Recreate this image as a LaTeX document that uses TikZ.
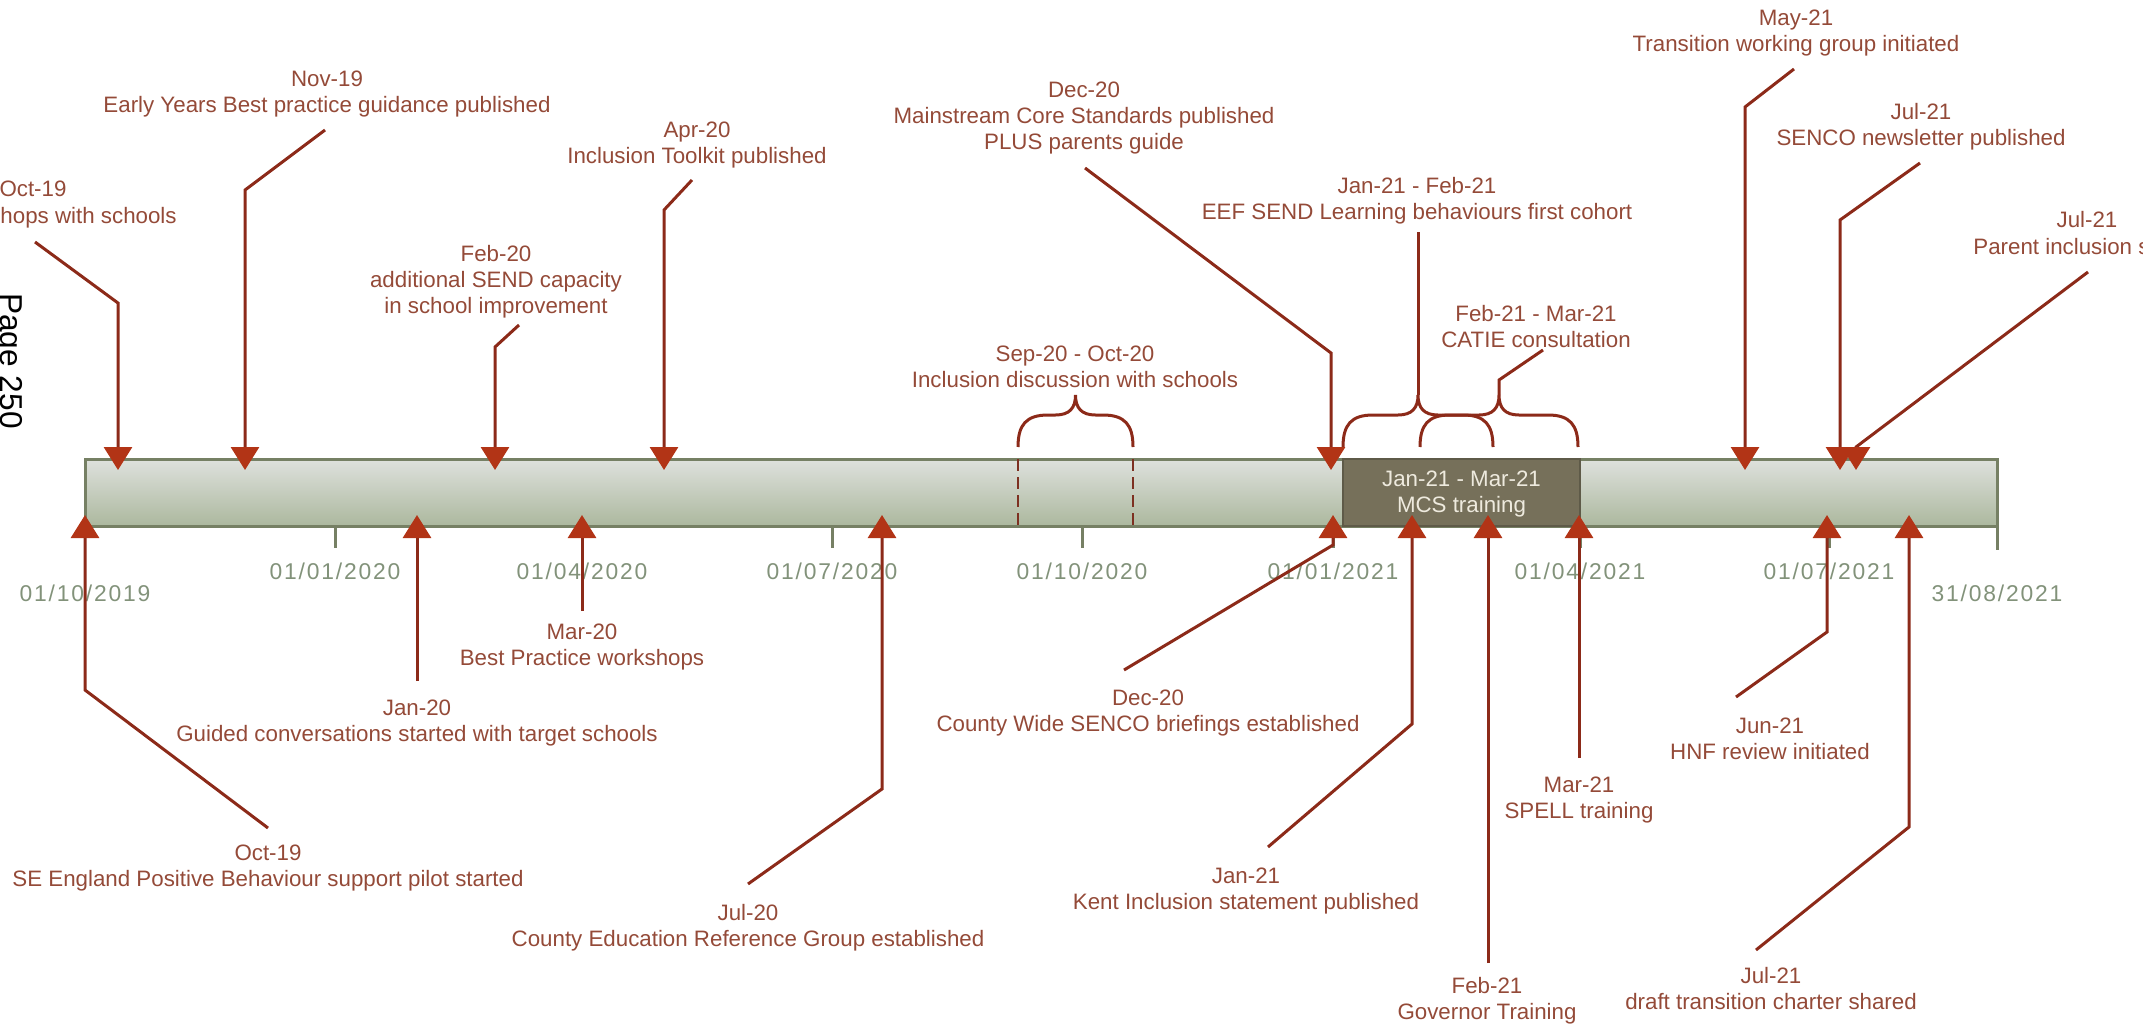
\documentclass[tikz,border=0pt]{standalone}
\usepackage{fontspec}
\setmainfont{Liberation Sans}
\newfontfamily\datefont{Liberation Sans}[LetterSpace=8]
\usetikzlibrary{arrows.meta}
\definecolor{lbltext}{RGB}{148,74,56}
\definecolor{axtext}{RGB}{130,146,122}
\definecolor{evtline}{RGB}{140,42,25}
\definecolor{tipred}{RGB}{178,52,22}
\definecolor{barline}{RGB}{118,128,100}
\definecolor{bartop}{RGB}{222,225,221}
\definecolor{barbot}{RGB}{172,184,158}
\definecolor{mcsfill}{RGB}{118,112,90}
\definecolor{mcstext}{RGB}{238,234,222}
\definecolor{dashred}{RGB}{125,48,33}

\begin{document}
\begin{tikzpicture}[x=0.2mm, y=-0.2mm,
    lbl/.style={font=\fontsize{12.7}{14.8}\selectfont, text=lbltext, align=center, inner sep=0pt},
    datelbl/.style={font=\datefont\fontsize{13}{15}\selectfont, text=axtext, inner sep=0pt},
    evt/.style={draw=evtline, line width=0.6mm, -{Triangle[length=4.6mm,width=5.6mm,color=tipred]}},
    link/.style={draw=evtline, line width=0.6mm},
    tick/.style={draw=barline, line width=0.6mm}]
        \useasboundingbox (0,0) rectangle (2143,1026);
        % Page number
        \node[rotate=-90, anchor=base west, font=\fontsize{18}{20}\selectfont] (page) at (0,287) {Page 250};
        % Timeline bar
        \shade[top color=bartop, bottom color=barbot] (85,459) rectangle (1997,526);
        \draw[barline, line width=0.6mm] (85,459) rectangle (1997,526);
        \draw[tick] (1997,526) -- (1997,550);
        \draw[tick] (335,526) -- (335,548);
        \draw[tick] (582,526) -- (582,548);
        \draw[tick] (832,526) -- (832,548);
        \draw[tick] (1082,526) -- (1082,548);
        \draw[tick] (1333,526) -- (1333,548);
        \draw[tick] (1580,526) -- (1580,548);
        \draw[tick] (1829,526) -- (1829,548);
        % Dates
        \node[datelbl] (d19oct) at (85,593) {01/10/2019};
        \node[datelbl] (d20jan) at (335,571) {01/01/2020};
        \node[datelbl] (d20apr) at (582,571) {01/04/2020};
        \node[datelbl] (d20jul) at (832,571) {01/07/2020};
        \node[datelbl] (d20oct) at (1082,571) {01/10/2020};
        \node[datelbl] (d21jan) at (1333,571) {01/01/2021};
        \node[datelbl] (d21apr) at (1580,571) {01/04/2021};
        \node[datelbl] (d21jul) at (1829,571) {01/07/2021};
        \node[datelbl] (d21aug) at (1997,593) {31/08/2021};
        % MCS training
        \filldraw[fill=mcsfill, draw=mcsfill!80!black, line width=0.4mm] (1343,459) rectangle (1580,526);
        \node[lbl, text=mcstext] (mcs) at (1461.5,494) {Jan-21 - Mar-21\\MCS training};
        % Sep-20 - Oct-20
        \draw[dashred, line width=0.45mm, dash pattern=on 2.4mm off 1.2mm] (1018,459) -- (1018,526);
        \draw[dashred, line width=0.45mm, dash pattern=on 2.4mm off 1.2mm] (1133,459) -- (1133,526);
        \node[lbl] (sepoct) at (1075,367) {Sep-20 - Oct-20\\Inclusion discussion with schools};
        % Braces
        \foreach \l/\r in {1018/1133, 1343/1493, 1420/1578}{
            \pgfmathsetmacro\m{(\l+\r)/2}
            \draw[link] (\l,447) .. controls (\l,425) and ({\l+8},415) .. ({\l+30},415)
                -- ({\m-20},415) .. controls ({\m-6},415) and (\m,408) .. (\m,395)
                .. controls (\m,408) and ({\m+6},415) .. ({\m+20},415)
                -- ({\r-30},415) .. controls ({\r-8},415) and (\r,425) .. (\r,447);
        }

        % Oct-19 (top)
        \node[lbl] (oct19a) at (33,189) {Oct-19};
        \node[lbl, anchor=east] (oct19b) at (177,218) {hops with schools};
        \coordinate (oct19s) at (35,242); \coordinate (oct19t) at (118,470);
        \draw[evt] (oct19s) -- (118,303) -- (oct19t);
        % Nov-19
        \node[lbl] (nov19) at (327,94) {Nov-19\\Early Years Best practice guidance published};
        \coordinate (nov19s) at (325,130); \coordinate (nov19t) at (245,470);
        \draw[evt] (nov19s) -- (245,190) -- (nov19t);
        % Feb-20
        \node[lbl] (feb20) at (496,282) {Feb-20\\additional SEND capacity\\in school improvement};
        \coordinate (feb20s) at (519,325); \coordinate (feb20t) at (495,470);
        \draw[evt] (feb20s) -- (495,347) -- (feb20t);
        % Apr-20
        \node[lbl] (apr20) at (697,145) {Apr-20\\Inclusion Toolkit published};
        \coordinate (apr20s) at (692,180); \coordinate (apr20t) at (664,470);
        \draw[evt] (apr20s) -- (664,210) -- (apr20t);
        % Dec-20 (top)
        \node[lbl] (dec20a) at (1084,118) {Dec-20\\Mainstream Core Standards published\\PLUS parents guide};
        \coordinate (dec20s) at (1085,168); \coordinate (dec20t) at (1331,470);
        \draw[evt] (dec20s) -- (1331,353) -- (dec20t);
        % Jan-21 - Feb-21
        \node[lbl] (janfeb) at (1417,201) {Jan-21 - Feb-21\\EEF SEND Learning behaviours first cohort};
        \coordinate (janfebs) at (1418,232);
        \draw[link] (janfebs) -- (1418,395);
        % Feb-21 - Mar-21
        \node[lbl] (febmar) at (1536,327) {Feb-21 - Mar-21\\CATIE consultation};
        \coordinate (febmars) at (1543,350);
        \draw[link] (febmars) -- (1499,380) -- (1499,395);
        % May-21
        \node[lbl] (may21) at (1796,33) {May-21\\Transition working group initiated};
        \coordinate (may21s) at (1794,69); \coordinate (may21t) at (1745,470);
        \draw[evt] (may21s) -- (1745,107) -- (may21t);
        % Jul-21 SENCO
        \node[lbl] (jul21a) at (1921,127) {Jul-21\\SENCO newsletter published};
        \coordinate (jul21as) at (1920,163); \coordinate (jul21at) at (1840,470);
        \draw[evt] (jul21as) -- (1840,220) -- (jul21at);
        % Jul-21 Parent
        \node[lbl] (jul21b) at (2087,220) {Jul-21};
        \node[lbl, anchor=west] (jul21c) at (1973,247) {Parent inclusion s};
        \coordinate (jul21bs) at (2088,272); \coordinate (jul21bt) at (1856,470);
        \draw[evt] (jul21bs) -- (1856,447) -- (jul21bt);

        % Oct-19 (bottom)
        \node[lbl] (oct19c) at (268,868) {Oct-19\\SE England Positive Behaviour support pilot started};
        \coordinate (oct19cs) at (268,828); \coordinate (oct19ct) at (85,515);
        \draw[evt] (oct19cs) -- (85,690) -- (oct19ct);
        % Jan-20
        \node[lbl] (jan20) at (417,723) {Jan-20\\Guided conversations started with target schools};
        \coordinate (jan20s) at (417,681); \coordinate (jan20t) at (417,515);
        \draw[evt] (jan20s) -- (jan20t);
        % Mar-20
        \node[lbl] (mar20) at (582,647) {Mar-20\\Best Practice workshops};
        \coordinate (mar20s) at (582,611); \coordinate (mar20t) at (582,515);
        \draw[evt] (mar20s) -- (mar20t);
        % Jul-20
        \node[lbl] (jul20) at (748,928) {Jul-20\\County Education Reference Group established};
        \coordinate (jul20s) at (748,884); \coordinate (jul20t) at (882,515);
        \draw[evt] (jul20s) -- (882,789) -- (jul20t);
        % Dec-20 (bottom)
        \node[lbl] (dec20b) at (1148,713) {Dec-20\\County Wide SENCO briefings established};
        \coordinate (dec20bs) at (1124,670); \coordinate (dec20bt) at (1333,515);
        \draw[evt] (dec20bs) -- (1333,545) -- (dec20bt);
        % Jan-21
        \node[lbl] (jan21) at (1246,891) {Jan-21\\Kent Inclusion statement published};
        \coordinate (jan21s) at (1268,847); \coordinate (jan21t) at (1412,515);
        \draw[evt] (jan21s) -- (1412,724) -- (jan21t);
        % Feb-21
        \node[lbl] (feb21) at (1487,1001) {Feb-21\\Governor Training};
        \coordinate (feb21s) at (1488,963); \coordinate (feb21t) at (1488,515);
        \draw[evt] (feb21s) -- (feb21t);
        % Mar-21
        \node[lbl] (mar21) at (1579,800) {Mar-21\\SPELL training};
        \coordinate (mar21s) at (1579,758); \coordinate (mar21t) at (1579,515);
        \draw[evt] (mar21s) -- (mar21t);
        % Jun-21
        \node[lbl] (jun21) at (1770,739) {Jun-21\\HNF review initiated};
        \coordinate (jun21s) at (1736,697); \coordinate (jun21t) at (1827,515);
        \draw[evt] (jun21s) -- (1827,632) -- (jun21t);
        % Jul-21 charter
        \node[lbl] (jul21d) at (1771,989) {Jul-21\\draft transition charter shared};
        \coordinate (jul21ds) at (1756,950); \coordinate (jul21dt) at (1909,515);
        \draw[evt] (jul21ds) -- (1909,827) -- (jul21dt);
    \end{tikzpicture}
\end{document}
